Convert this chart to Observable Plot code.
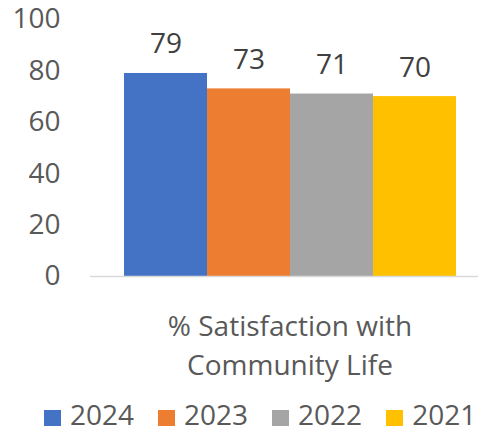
<!DOCTYPE html>
<html><head><meta charset="utf-8">
<script src="https://cdn.jsdelivr.net/npm/d3@7"></script>
<script src="https://cdn.jsdelivr.net/npm/@observablehq/plot@0.6"></script>
<style>
body{margin:0;background:#fff;font-family:"Open Sans",sans-serif;}
#legend{display:flex;margin-top:15px;padding-left:44px;gap:24px;font-size:28px;line-height:28px;color:#595959;}
.item{display:flex;align-items:flex-start;}
.sw{width:17px;height:16px;margin-top:10px;margin-right:9px;}
</style></head><body><div id="chart"></div><div id="legend"></div>
<script>
const category = "% Satisfaction with\nCommunity Life";
const years = ["2024","2023","2022","2021"];
const values = [79, 73, 71, 70];
const colors = ["#4472C4","#ED7D31","#A5A5A5","#FFC000"];
const yTicks = [0, 20, 40, 60, 80, 100];
const data = years.map((year, i) => ({year, value: values[i]}));

const chart = Plot.plot({
  width: 478, height: 385,
  marginTop: 19, marginBottom: 109, marginLeft: 90, marginRight: 0,
  style: {fontFamily: "Open Sans", fontSize: "28px", color: "#595959", background: "#fff", overflow: "visible"},
  x: {domain: years, range: [122, 457], padding: 0, axis: null},
  y: {domain: [0, 100], ticks: yTicks, tickSize: 0, tickPadding: 30, label: null},
  color: {domain: years, range: colors},
  marks: [
    Plot.barY(data, {x: "year", y: "value", fill: "year"}),
    Plot.ruleY([0], {stroke: "#D9D9D9", strokeWidth: 1.5}),
    Plot.text(data, {x: "year", y: "value", text: d => String(d.value), lineAnchor: "bottom", dy: -20, fill: "#404040"}),
    Plot.text([category], {frameAnchor: "bottom", text: d => d, lineAnchor: "top", dy: 32, dx: 5.5, lineHeight: 1.39, fill: "#595959"})
  ]
});
document.getElementById("chart").appendChild(chart);

const legend = document.getElementById("legend");
years.forEach((y, i) => {
  const item = document.createElement("div");
  item.className = "item";
  const sw = document.createElement("span");
  sw.className = "sw";
  sw.style.background = colors[i];
  const lab = document.createElement("span");
  lab.textContent = y;
  item.appendChild(sw); item.appendChild(lab);
  legend.appendChild(item);
});
</script></body></html>
